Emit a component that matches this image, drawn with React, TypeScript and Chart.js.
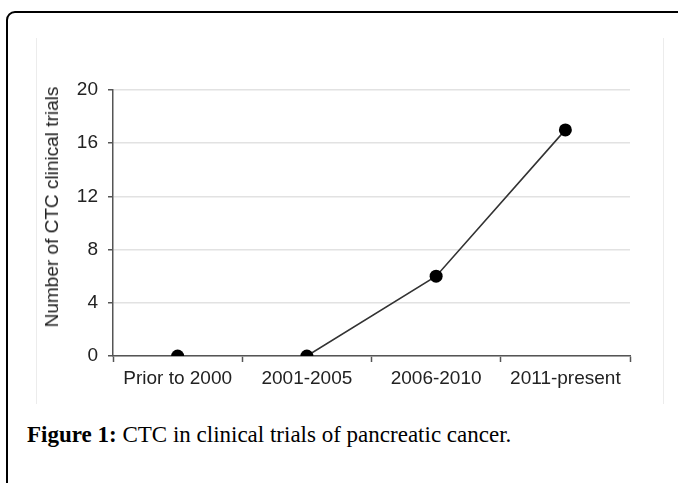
import React, { useEffect, useRef } from "react";
import { Chart, registerables } from "chart.js";

Chart.register(...registerables);

const categories = ["Prior to 2000", "2001-2005", "2006-2010", "2011-present"];
const trialCounts = [0, 0, 6, 17];
const yTicks = [0, 4, 8, 12, 16, 20];
const yTitle = "Number of CTC clinical trials";
const captionBold = "Figure 1:";
const captionText = " CTC in clinical trials of pancreatic cancer.";

const FONT = "'Liberation Sans', Arial, Helvetica, sans-serif";

export default function App() {
  const canvasRef = useRef<HTMLCanvasElement | null>(null);

  useEffect(() => {
    document.body.style.margin = "0";
    const ctx = canvasRef.current!.getContext("2d")!;
    const chart = new Chart(ctx, {
      type: "line",
      data: {
        labels: categories,
        datasets: [
          {
            data: trialCounts,
            borderColor: "#333",
            borderWidth: 1.6,
            pointBackgroundColor: "#000",
            pointBorderColor: "#000",
            pointRadius: 6.5,
            pointBorderWidth: 0,
            tension: 0,
            fill: false,
            segment: {
              borderColor: (c: any) => (c.p0DataIndex === 0 ? "rgba(0,0,0,0)" : "#333"),
            },
          },
        ],
      },
      options: {
        animation: false,
        responsive: false,
        maintainAspectRatio: false,
        layout: { padding: { left: 0, top: 52, right: 33, bottom: 0 } },
        plugins: { legend: { display: false }, tooltip: { enabled: false } },
        scales: {
          x: {
            offset: true,
            grid: {
              offset: true,
              drawOnChartArea: false,
              drawTicks: true,
              tickLength: 6,
              tickColor: "#555",
              tickWidth: 1.5,
            },
            border: { color: "#555", width: 1.5 },
            ticks: {
              color: "#222",
              font: { family: FONT, size: 19 },
              padding: 5,
              maxRotation: 0,
              autoSkip: false,
            },
            afterFit: (s: any) => {
              s.height = 48;
            },
          },
          y: {
            min: 0,
            max: 20,
            afterBuildTicks: (s: any) => {
              s.ticks = yTicks.map((v) => ({ value: v }));
            },
            grid: {
              color: "#e2e2e2",
              lineWidth: 1.5,
              tickLength: 5,
              tickColor: "#555",
              tickWidth: 1.5,
            },
            border: { color: "#555", width: 1.5 },
            ticks: {
              color: "#222",
              font: { family: FONT, size: 19 },
              padding: 10,
            },
            afterFit: (s: any) => {
              s.width = 77;
            },
          },
        },
      },
    });
    return () => chart.destroy();
  }, []);

  return (
    <div style={{ position: "absolute", left: 0, top: 0, width: 678, height: 483, overflow: "hidden", background: "#fff" }}>
      <div
        style={{
          position: "absolute",
          left: 6,
          top: 11,
          width: 700,
          height: 500,
          border: "2px solid #000",
          borderTopLeftRadius: 9,
        }}
      />
      <div
        style={{
          position: "absolute",
          left: 36,
          top: 38,
          width: 626,
          height: 366,
          borderLeft: "1.5px solid #ececec",
          borderRight: "1.5px solid #ececec",
        }}
      />
      <canvas
        ref={canvasRef}
        width={627}
        height={366}
        style={{ position: "absolute", left: 36, top: 38, width: 627, height: 366 }}
      />
      <div
        style={{
          position: "absolute",
          left: 52,
          top: 207,
          transform: "translate(-50%, -50%) rotate(-90deg)",
          fontFamily: FONT,
          fontSize: 19,
          lineHeight: "22px",
          color: "#222",
          whiteSpace: "nowrap",
        }}
      >
        {yTitle}
      </div>
      <div
        style={{
          position: "absolute",
          left: 27,
          top: 423,
          fontFamily: "'Liberation Serif', 'Times New Roman', serif",
          fontSize: 23,
          lineHeight: "23px",
          color: "#000",
          whiteSpace: "nowrap",
        }}
      >
        <b>{captionBold}</b>
        {captionText}
      </div>
    </div>
  );
}
